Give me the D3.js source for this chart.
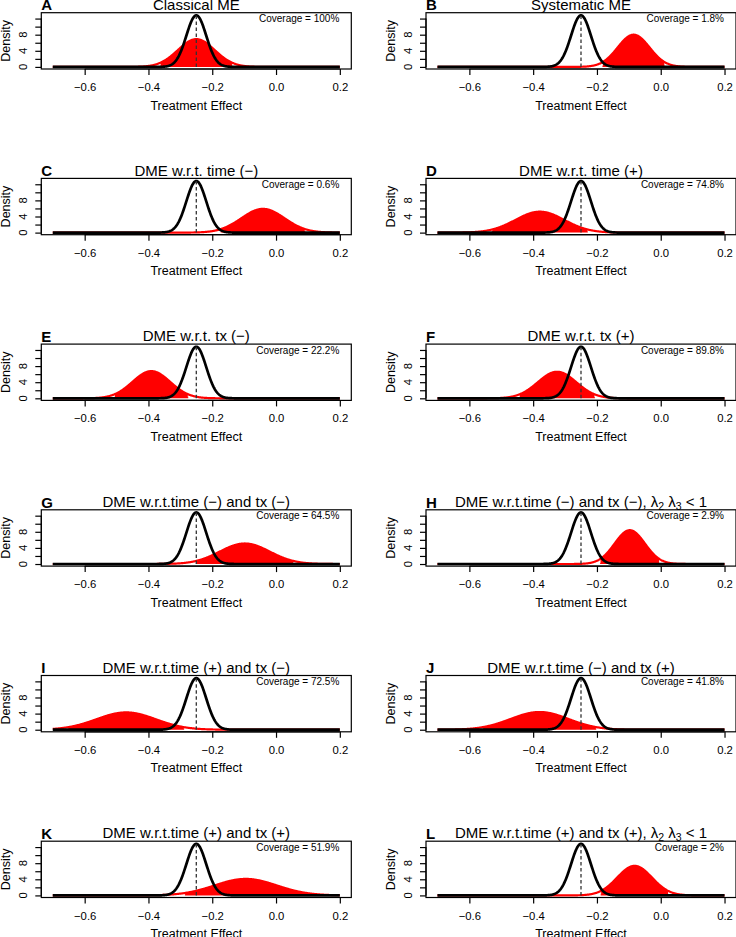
<!DOCTYPE html>
<html>
<head>
<meta charset="utf-8">
<script src="https://cdn.jsdelivr.net/npm/d3@7"></script>
<style>
  html, body { margin: 0; padding: 0; background: #fff; }
  svg { display: block; font-family: "Liberation Sans", Arial, Helvetica, sans-serif; }
</style>
</head>
<body>
<script>
// ---------------- data ----------------
const panelLetters = ["A","B","C","D","E","F","G","H","I","J","K","L"];
const panelTitles = [
  "Classical ME", "Systematic ME",
  "DME w.r.t. time (\u2212)", "DME w.r.t. time (+)",
  "DME w.r.t. tx (\u2212)", "DME w.r.t. tx (+)",
  "DME w.r.t.time (\u2212) and tx (\u2212)", "DME w.r.t.time (\u2212) and tx (\u2212), LAMBDA",
  "DME w.r.t.time (+) and tx (\u2212)", "DME w.r.t.time (\u2212) and tx (+)",
  "DME w.r.t.time (+) and tx (+)", "DME w.r.t.time (+) and tx (+), LAMBDA"
];
const coverageLabels = ["100%","1.8%","0.6%","74.8%","22.2%","89.8%","64.5%","2.9%","72.5%","41.8%","51.9%","2%"];
// estimated distribution of the (mis-measured) estimates, red: centre and peak height
const redMean = [-0.25, -0.085, -0.041, -0.379, -0.391, -0.325, -0.098, -0.097, -0.47, -0.38, -0.095, -0.082];
const redPeak = [6.9, 8.0, 5.9, 5.2, 6.75, 6.6, 5.1, 8.4, 4.3, 4.4, 4.1, 7.35];
// true sampling distribution, black
const truthMean = -0.25;
const truthPeak = 12.8;
const xTicks = [-0.6, -0.4, -0.2, 0.0, 0.2];
const yTicks = [0, 2, 4, 6, 8, 10, 12];
const yTickLabels = ["0", "", "4", "", "8", "", ""];
const xRange = [-0.7, 0.2];
const yRange = [0, 12.94];

// ---------------- layout ----------------
const W = 736, H = 937;
const svg = d3.select("body").append("svg").attr("width", W).attr("height", H);

const colLeft = [41.3, 426];
const boxW = 310;
const rowTop0 = 12.7, rowStep = 165.7, boxH = 56.3;

const padX = (xRange[1] - xRange[0]) * 0.04;
const padY = (yRange[1] - yRange[0]) * 0.04;

function dnorm(x, m, s) { return Math.exp(-0.5 * ((x - m) / s) ** 2) / (s * Math.sqrt(2 * Math.PI)); }

const nPts = 600;
const xs = d3.range(nPts + 1).map(i => xRange[0] + (xRange[1] - xRange[0]) * i / nPts);

panelLetters.forEach((letter, i) => {
  const col = i % 2, row = Math.floor(i / 2);
  const left = colLeft[col], top = rowTop0 + row * rowStep;
  const g = svg.append("g");

  const x = d3.scaleLinear().domain([xRange[0] - padX, xRange[1] + padX]).range([left, left + boxW]);
  const y = d3.scaleLinear().domain([yRange[0] - padY, yRange[1] + padY]).range([top + boxH, top]);

  const m = redMean[i];
  const s = 1 / (redPeak[i] * Math.sqrt(2 * Math.PI));
  const ts = 1 / (truthPeak * Math.sqrt(2 * Math.PI));

  const line = d3.line().x(d => x(d[0])).y(d => y(d[1]));
  const area = d3.area().x(d => x(d[0])).y0(y(0)).y1(d => y(d[1]));

  // red filled central 95% region
  const lo = m - 1.96 * s, hi = m + 1.96 * s;
  const fillXs = d3.range(201).map(k => lo + (hi - lo) * k / 200);
  g.append("path").datum(fillXs.map(v => [v, dnorm(v, m, s)]))
    .attr("d", area).attr("fill", "#ff0000").attr("stroke", "none");
  // white edge marks of the fill
  [lo, hi].forEach(v => {
    g.append("line").attr("x1", x(v)).attr("x2", x(v))
      .attr("y1", y(0) - 1.2).attr("y2", y(dnorm(v, m, s)))
      .attr("stroke", "#fff").attr("stroke-width", 0.8);
  });
  // red density curve
  g.append("path").datum(xs.map(v => [v, dnorm(v, m, s)]))
    .attr("d", line).attr("fill", "none").attr("stroke", "#ff0000").attr("stroke-width", 2.2);
  // black true density
  g.append("path").datum(xs.map(v => [v, dnorm(v, truthMean, ts)]))
    .attr("d", line).attr("fill", "none").attr("stroke", "#000").attr("stroke-width", 2.7)
    .attr("stroke-linejoin", "round");
  // dashed line at true effect
  g.append("line").attr("x1", x(truthMean)).attr("x2", x(truthMean))
    .attr("y1", y(0)).attr("y2", y(truthPeak))
    .attr("stroke", "#333").attr("stroke-width", 1.3).attr("stroke-dasharray", "3.5,2.5");

  // box
  g.append("rect").attr("x", left).attr("y", top).attr("width", boxW).attr("height", boxH)
    .attr("fill", "none").attr("stroke", "#000").attr("stroke-width", 1.2);

  // x axis
  const xAxis = g.append("g").attr("transform", `translate(0,${top + boxH})`)
    .call(d3.axisBottom(x).tickValues(xTicks).tickSize(6).tickPadding(8)
      .tickFormat(d => (d < 0 ? "\u2212" : "") + Math.abs(d).toFixed(1)));
  xAxis.select(".domain").attr("d", `M${x(xTicks[0])},0H${x(xTicks[xTicks.length - 1])}`).attr("stroke-width", 1.2);
  xAxis.selectAll(".tick line").attr("stroke-width", 1.2);
  xAxis.selectAll(".tick text").attr("font-size", 11.3).attr("fill", "#000")
    .attr("font-family", "Liberation Sans, Arial, sans-serif");

  // y axis
  const yAxis = g.append("g").attr("transform", `translate(${left},0)`)
    .call(d3.axisLeft(y).tickValues(yTicks).tickSize(6).tickFormat((d, k) => yTickLabels[k]));
  yAxis.select(".domain").attr("d", `M0,${y(yTicks[0])}V${y(yTicks[yTicks.length - 1])}`).attr("stroke-width", 1.2);
  yAxis.selectAll(".tick line").attr("stroke-width", 1.2);
  yAxis.selectAll(".tick text").remove();
  yTicks.forEach((t, k) => {
    if (!yTickLabels[k]) return;
    g.append("text").attr("transform", `translate(${left - 14.5},${y(t)}) rotate(-90)`)
      .attr("text-anchor", "middle").attr("font-size", 11.3).text(yTickLabels[k]);
  });

  // axis titles
  g.append("text").attr("x", left + boxW / 2).attr("y", top + boxH + 40.5)
    .attr("text-anchor", "middle").attr("font-size", 12.5).text("Treatment Effect");
  g.append("text").attr("transform", `translate(${left - 31.5},${top + boxH / 2}) rotate(-90)`)
    .attr("text-anchor", "middle").attr("font-size", 12.5).text("Density");

  // panel title
  const title = g.append("text").attr("x", left + boxW / 2).attr("y", top - 2.8)
    .attr("text-anchor", "middle").attr("font-size", 15);
  const t = panelTitles[i];
  if (t.includes("LAMBDA")) {
    title.append("tspan").text(t.replace("LAMBDA", "\u03bb"));
    title.append("tspan").attr("font-size", 10.5).attr("dy", 2.5).text("2");
    title.append("tspan").attr("dy", -2.5).text(" \u03bb");
    title.append("tspan").attr("font-size", 10.5).attr("dy", 2.5).text("3");
    title.append("tspan").attr("dy", -2.5).text(" < 1");
  } else {
    title.text(t);
  }

  // panel letter
  g.append("text").attr("x", left).attr("y", top - 2.3)
    .attr("font-size", 15).attr("font-weight", "bold").text(letter);

  // coverage
  g.append("text").attr("x", left + boxW - 12).attr("y", top + 9.5)
    .attr("text-anchor", "end").attr("font-size", 10).text("Coverage = " + coverageLabels[i]);
});
</script>
</body>
</html>
